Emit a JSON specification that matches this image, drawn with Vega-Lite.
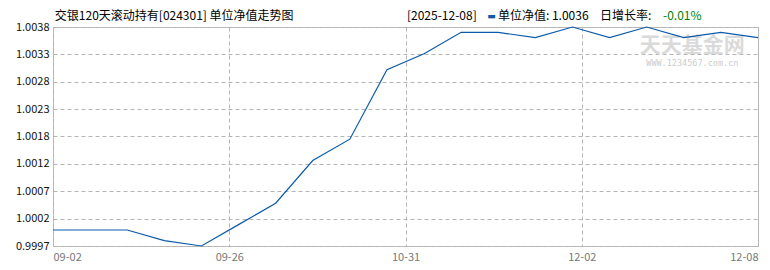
{
  "$schema": "https://vega.github.io/schema/vega-lite/v6.json",
  "width": 705,
  "height": 219,
  "autosize": {"type": "none"},
  "padding": {"left": 53, "top": 27, "right": 12, "bottom": 24},
  "background": "white",
  "config": {
    "view": {"stroke": "#bdbdbd", "strokeWidth": 1},
    "axis": {"domain": false, "ticks": false, "title": null}
  },
  "datasets": {
    "nav": [
      {"i": 0, "date": "2025-09-02", "nav": 1.0000},
      {"i": 1, "date": "2025-09-05", "nav": 1.0000},
      {"i": 2, "date": "2025-09-12", "nav": 1.0000},
      {"i": 3, "date": "2025-09-19", "nav": 0.9998},
      {"i": 4, "date": "2025-09-26", "nav": 0.9997},
      {"i": 5, "date": "2025-09-30", "nav": 1.0001},
      {"i": 6, "date": "2025-10-10", "nav": 1.0005},
      {"i": 7, "date": "2025-10-17", "nav": 1.0013},
      {"i": 8, "date": "2025-10-24", "nav": 1.0017},
      {"i": 9, "date": "2025-10-31", "nav": 1.0030},
      {"i": 10, "date": "2025-11-07", "nav": 1.0033},
      {"i": 11, "date": "2025-11-14", "nav": 1.0037},
      {"i": 12, "date": "2025-11-21", "nav": 1.0037},
      {"i": 13, "date": "2025-11-28", "nav": 1.0036},
      {"i": 14, "date": "2025-12-01", "nav": 1.0038},
      {"i": 15, "date": "2025-12-02", "nav": 1.0036},
      {"i": 16, "date": "2025-12-03", "nav": 1.0038},
      {"i": 17, "date": "2025-12-04", "nav": 1.0036},
      {"i": 18, "date": "2025-12-05", "nav": 1.0037},
      {"i": 19, "date": "2025-12-08", "nav": 1.0036}
    ],
    "one": [{}]
  },
  "layer": [
    {
      "data": {"name": "one"},
      "mark": {"type": "text", "align": "center", "baseline": "middle", "font": "Noto Sans CJK SC", "fontSize": 21, "fontWeight": "bold", "color": "#dadada"},
      "encoding": {
        "x": {"datum": 17.23, "type": "quantitative"},
        "y": {"datum": 1.00345, "type": "quantitative"},
        "text": {"value": "天天基金网"}
      }
    },
    {
      "data": {"name": "one"},
      "mark": {"type": "text", "align": "center", "baseline": "middle", "font": "DejaVu Sans Mono", "fontSize": 8.5, "color": "#cccccc"},
      "encoding": {
        "x": {"datum": 17.23, "type": "quantitative"},
        "y": {"datum": 1.00313, "type": "quantitative"},
        "text": {"value": "WWW.1234567.com.cn"}
      }
    },
    {
      "data": {"name": "nav"},
      "mark": {"type": "line", "color": "#0a5aab", "strokeWidth": 1.2},
      "encoding": {
        "x": {
          "field": "i",
          "type": "quantitative",
          "scale": {"domain": [0, 19], "nice": false, "zero": false},
          "axis": {
            "values": [0, 4.75, 9.5, 14.25, 19],
            "tickCount": 20,
            "labelExpr": "['09-02','09-26','10-31','12-02','12-08'][round(datum.value/4.75)]",
            "labelFlush": true,
            "labelOverlap": false,
            "labelFont": "Noto Sans CJK SC",
            "labelFontSize": 11,
            "labelColor": "#777777",
            "labelPadding": 5,
            "grid": true,
            "gridColor": "#b4b4b4",
            "gridDash": [4, 3],
            "title": null
          }
        },
        "y": {
          "field": "nav",
          "type": "quantitative",
          "scale": {"domain": [0.9997, 1.0038], "nice": false, "zero": false},
          "axis": {
            "values": [0.9997, 1.0002125, 1.000725, 1.0012375, 1.0017501, 1.0022625, 1.002775, 1.0032875, 1.0038],
            "tickCount": 20,
            "format": ".4f",
            "labelOverlap": false,
            "labelFlush": false,
            "labelFont": "Noto Sans CJK SC",
            "labelFontSize": 11,
            "labelColor": "#111111",
            "labelPadding": 4,
            "grid": true,
            "gridColor": "#b4b4b4",
            "gridDash": [4, 3],
            "title": null
          }
        }
      }
    },
    {
      "data": {"name": "one"},
      "mark": {"type": "text", "align": "left", "baseline": "middle", "font": "Noto Sans CJK SC", "fontSize": 12, "color": "#000000"},
      "encoding": {
        "x": {"datum": 0.05, "type": "quantitative"},
        "y": {"datum": 1.004012, "type": "quantitative"},
        "text": {"value": "交银120天滚动持有[024301] 单位净值走势图"}
      }
    },
    {
      "data": {"name": "one"},
      "mark": {"type": "text", "align": "left", "baseline": "middle", "font": "Noto Sans CJK SC", "fontSize": 12, "color": "#000000"},
      "encoding": {
        "x": {"datum": 9.54, "type": "quantitative"},
        "y": {"datum": 1.004012, "type": "quantitative"},
        "text": {"value": "[2025-12-08]"}
      }
    },
    {
      "data": {"name": "one"},
      "mark": {"type": "text", "align": "left", "baseline": "middle", "font": "DejaVu Sans", "fontSize": 9, "color": "#0a5aab"},
      "encoding": {
        "x": {"datum": 11.7, "type": "quantitative"},
        "y": {"datum": 1.004012, "type": "quantitative"},
        "text": {"value": "▬"}
      }
    },
    {
      "data": {"name": "one"},
      "mark": {"type": "text", "align": "left", "baseline": "middle", "font": "Noto Sans CJK SC", "fontSize": 12, "color": "#000000"},
      "encoding": {
        "x": {"datum": 11.99, "type": "quantitative"},
        "y": {"datum": 1.004012, "type": "quantitative"},
        "text": {"value": "单位净值: 1.0036"}
      }
    },
    {
      "data": {"name": "one"},
      "mark": {"type": "text", "align": "left", "baseline": "middle", "font": "Noto Sans CJK SC", "fontSize": 12, "color": "#000000"},
      "encoding": {
        "x": {"datum": 14.74, "type": "quantitative"},
        "y": {"datum": 1.004012, "type": "quantitative"},
        "text": {"value": "日增长率:"}
      }
    },
    {
      "data": {"name": "one"},
      "mark": {"type": "text", "align": "left", "baseline": "middle", "font": "Noto Sans CJK SC", "fontSize": 12, "color": "#008000"},
      "encoding": {
        "x": {"datum": 16.44, "type": "quantitative"},
        "y": {"datum": 1.004012, "type": "quantitative"},
        "text": {"value": "-0.01%"}
      }
    }
  ]
}
